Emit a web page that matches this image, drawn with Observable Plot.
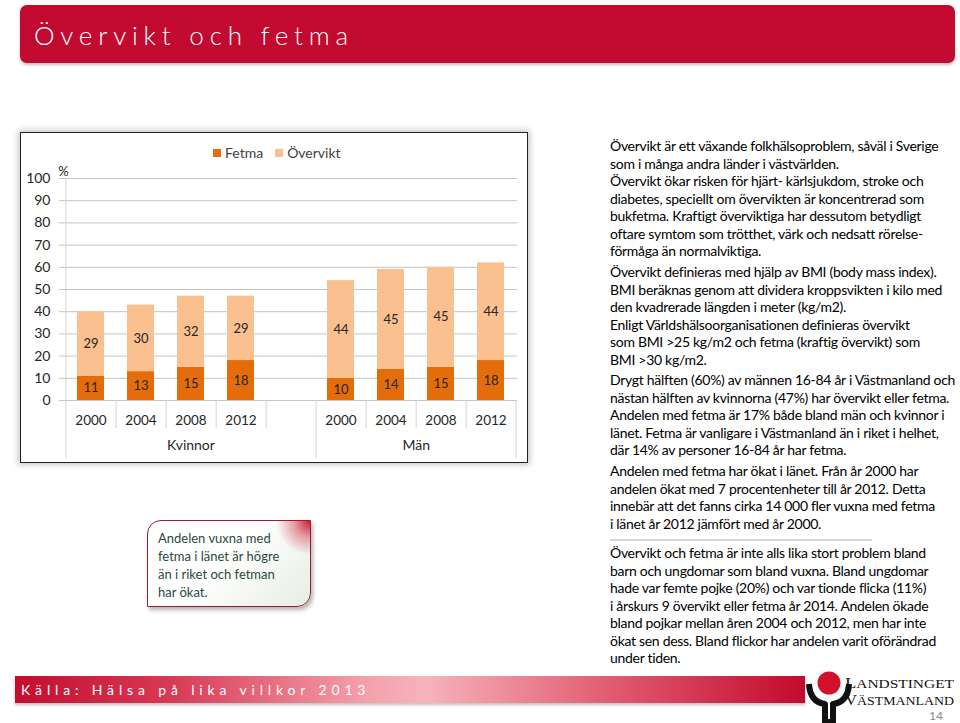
<!DOCTYPE html>
<html>
<head>
<meta charset="utf-8">
<script src="https://cdn.jsdelivr.net/npm/d3@7"></script>
<script src="https://cdn.jsdelivr.net/npm/@observablehq/plot@0.6"></script>
<style>
  body { margin: 0; background: #fff; font-family: Lato, "Open Sans", sans-serif; }
  #page { position: relative; width: 960px; height: 723px; overflow: hidden; background: #fff; }
  #title { position: absolute; left: 20px; top: 5px; width: 935px; height: 58px; background: #c20a30;
           border-radius: 7px; box-shadow: 0 2px 3px rgba(0,0,0,0.25); }
  #title span { position: absolute; left: 14px; top: 15px; line-height: 30px; color: #fff; font-weight: 300;
                font-size: 26px; letter-spacing: 5.8px; white-space: nowrap; }
  #frame { position: absolute; left: 20px; top: 132px; width: 506px; height: 329px; border: 1px solid #222;
           box-shadow: 0 0 6px 2px rgba(0,0,0,0.22); background: #fff; }
  #frame svg { position: absolute; left: 0; top: 0; }
  #legend { position: absolute; left: 192px; top: 10px; font-size: 14px; color: #404040; white-space: nowrap; line-height: 20px; }
  #legend .item { display: inline-block; margin-right: 12px; }
  #legend .sw { display: inline-block; width: 8px; height: 8px; margin-right: 4px; vertical-align: 1px; }
  #callout { position: absolute; left: 147px; top: 520px; width: 162px; height: 85px; border: 1.5px solid #9b1b30;
             border-radius: 14px 0 14px 0;
             background: radial-gradient(circle at 100% 0%, rgba(200,16,40,0.95) 0px, rgba(200,16,40,0.4) 16px, rgba(200,16,40,0) 34px),
                         linear-gradient(135deg, #ffffff 45%, #e6ede4 100%);
             box-shadow: 2px 3px 4px rgba(0,0,0,0.3); }
  #callout div { position: absolute; left: 10px; top: 8px; font-size: 13px; line-height: 18px; color: #2a4a3c; white-space: nowrap; }
  .para { position: absolute; left: 610px; font-size: 14px; line-height: 17.5px; color: #000; white-space: nowrap; letter-spacing: -0.3px; }
  #hr { position: absolute; left: 610px; top: 539px; width: 262px; height: 2px; background: #d6d6d6; }
  #footer { position: absolute; left: 15px; top: 676px; width: 790px; height: 27px;
            background: linear-gradient(90deg, #c40c2e 0%, #d93a55 20%, #f4a3ad 45%, #f6b3bb 52%, #e25c72 75%, #c20a2e 100%);
            box-shadow: 0 2px 3px rgba(0,0,0,0.25); }
  #footer span { position: absolute; left: 6px; top: 4px; line-height: 20px; font-size: 14px; letter-spacing: 4.85px; color: #fff; white-space: nowrap; }
  #logo { position: absolute; left: 800px; top: 662px; }
</style>
</head>
<body>
<div id="page">
  <div id="title"><span>Övervikt och fetma</span></div>

  <div id="frame">
    <div id="legend"></div>
  </div>

  <div id="callout"><div>Andelen vuxna med<br>fetma i länet är högre<br>än i riket och fetman<br>har ökat.</div></div>

  <div class="para" style="top:137px">Övervikt är ett växande folkhälsoproblem, såväl i Sverige<br>som i många andra länder i västvärlden.<br>Övervikt ökar risken för hjärt- kärlsjukdom, stroke och<br>diabetes, speciellt om övervikten är koncentrerad som<br>bukfetma. Kraftigt överviktiga har dessutom betydligt<br>oftare symtom som trötthet, värk och nedsatt rörelse-<br>förmåga än normalviktiga.</div>
  <div class="para" style="top:263px">Övervikt definieras med hjälp av BMI (body mass index).<br>BMI beräknas genom att dividera kroppsvikten i kilo med<br>den kvadrerade längden i meter (kg/m2).<br>Enligt Världshälsoorganisationen definieras övervikt<br>som BMI &gt;25 kg/m2 och fetma (kraftig övervikt) som<br>BMI &gt;30 kg/m2.</div>
  <div class="para" style="top:371px">Drygt hälften (60%) av männen 16-84 år i Västmanland och<br>nästan hälften av kvinnorna (47%) har övervikt eller fetma.<br>Andelen med fetma är 17% både bland män och kvinnor i<br>länet. Fetma är vanligare i Västmanland än i riket i helhet,<br>där 14% av personer 16-84 år har fetma.</div>
  <div class="para" style="top:462px">Andelen med fetma har ökat i länet. Från år 2000 har<br>andelen ökat med 7 procentenheter till år 2012. Detta<br>innebär att det fanns cirka 14 000 fler vuxna med fetma<br>i länet år 2012 jämfört med år 2000.</div>
  <div id="hr"></div>
  <div class="para" style="top:544px">Övervikt och fetma är inte alls lika stort problem bland<br>barn och ungdomar som bland vuxna. Bland ungdomar<br>hade var femte pojke (20%) och var tionde flicka (11%)<br>i årskurs 9 övervikt eller fetma år 2014. Andelen ökade<br>bland pojkar mellan åren 2004 och 2012, men har inte<br>ökat sen dess. Bland flickor har andelen varit oförändrad<br>under tiden.</div>

  <div id="footer"><span>Källa: Hälsa på lika villkor 2013</span></div>

  <svg id="logo" width="160" height="61" viewBox="0 0 160 61">
    <circle cx="29" cy="21" r="11.5" fill="#d2112b"/>
    <path d="M9,22 Q10,40 25,42 L25,60 L33,60 L33,42 Q48,40 49,22" fill="none" stroke="#111" stroke-width="6" stroke-linejoin="round"/>
    <text x="45" y="25.5" font-family="'Liberation Serif', 'DejaVu Serif', serif" font-size="15" fill="#111" textLength="109" lengthAdjust="spacingAndGlyphs">L<tspan font-size="12.5">ANDSTINGET</tspan></text>
    <text x="45" y="43" font-family="'Liberation Serif', 'DejaVu Serif', serif" font-size="15" fill="#111" textLength="109" lengthAdjust="spacingAndGlyphs">V<tspan font-size="12.5">ÄSTMANLAND</tspan></text>
    <text x="136" y="58" font-family="Lato, sans-serif" font-size="12" fill="#8a8a8a" text-anchor="middle">14</text>
  </svg>
</div>

<script>
// ---- data ----
const groups = ["Kvinnor", "Män"];
const years = ["2000", "2004", "2008", "2012"];
const series = ["Fetma", "Övervikt"];
const seriesColors = ["#e46c0a", "#fac090"];
const fetmaKvinnor = [11, 13, 15, 18];
const overviktKvinnor = [29, 30, 32, 29];
const fetmaMan = [10, 14, 15, 18];
const overviktMan = [44, 45, 45, 44];
const yTicks = [0, 10, 20, 30, 40, 50, 60, 70, 80, 90, 100];

// ---- build table ----
const kKeys = years.map(y => "K" + y);
const mKeys = years.map(y => "M" + y);
const keys = [...kKeys, "gap", ...mKeys];
const data = [];
years.forEach((yr, i) => {
  data.push({key: "K" + yr, series: series[0], value: fetmaKvinnor[i]});
  data.push({key: "K" + yr, series: series[1], value: overviktKvinnor[i]});
});
years.forEach((yr, i) => {
  data.push({key: "M" + yr, series: series[0], value: fetmaMan[i]});
  data.push({key: "M" + yr, series: series[1], value: overviktMan[i]});
});

// ---- legend ----
const legend = document.getElementById("legend");
series.forEach((s, i) => {
  const item = document.createElement("span");
  item.className = "item";
  item.innerHTML = `<span class="sw" style="background:${seriesColors[i]}"></span>${s}`;
  legend.appendChild(item);
});

// ---- chart ----
const W = 506, H = 329, ML = 43, MR = 10, MT = 45, MB = 62;
const step = (W - ML - MR) / keys.length;
const gridColor = "#c4c4c4";
const divColor = "#d4d4d4";
const textColor = "#262626";

const shortDividers = [kKeys[0], kKeys[1], kKeys[2], kKeys[3], mKeys[0], mKeys[1], mKeys[2]];
const longDividersRight = ["gap", mKeys[3]];

const plot = Plot.plot({
  width: W, height: H,
  marginLeft: ML, marginRight: MR, marginTop: MT, marginBottom: MB,
  style: {fontFamily: "Lato, sans-serif", fontSize: "13px", color: textColor, background: "transparent", overflow: "visible"},
  x: {domain: keys, paddingInner: 0.46, paddingOuter: 0.23, label: null},
  y: {domain: [0, 100], label: null},
  color: {domain: series, range: seriesColors},
  marks: [
    Plot.gridY(yTicks, {stroke: gridColor, strokeOpacity: 1}),
    Plot.axisY(yTicks, {tickSize: 5, tickPadding: 9, stroke: gridColor, fill: textColor, fontSize: 14, label: null}),
    Plot.ruleX([keys[0]], {dx: -step / 2, stroke: divColor}),
    Plot.text(["%"], {text: d => d, frameAnchor: "top-left", textAnchor: "middle", dx: -1, dy: -12, fontSize: 13, fill: textColor}),
    Plot.barY(data, {x: "key", y: "value", fill: "series"}),
    Plot.text(data, Plot.stackY({x: "key", y: "value", z: "series", text: d => String(d.value), fill: textColor, fontSize: 13})),
    Plot.axisX(keys, {tickSize: 0, tickPadding: 15, tickFormat: k => k === "gap" ? "" : k.slice(1), fill: textColor, fontSize: 13.5, label: null}),
    Plot.axisX(shortDividers, {tickSize: 28, dx: step / 2, tickFormat: () => "", stroke: divColor, label: null}),
    Plot.axisX(longDividersRight, {tickSize: 58, dx: step / 2, tickFormat: () => "", stroke: divColor, label: null}),
    Plot.axisX([kKeys[0]], {tickSize: 58, dx: -step / 2, tickFormat: () => "", stroke: divColor, label: null}),
    Plot.text([groups[0]], {text: d => d, x: () => kKeys[2], frameAnchor: "bottom", dy: 49, fontSize: 14, fill: textColor}),
    Plot.text([groups[1]], {text: d => d, x: () => mKeys[1], frameAnchor: "bottom", dx: step / 2, dy: 49, fontSize: 14, fill: textColor})
  ]
});
document.getElementById("frame").appendChild(plot);
</script>
</body>
</html>
